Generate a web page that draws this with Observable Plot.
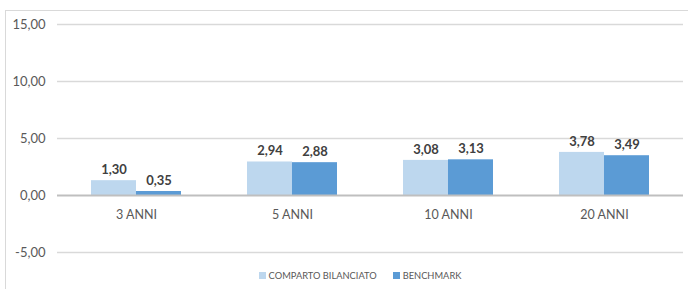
<!DOCTYPE html>
<html><head><meta charset="utf-8">
<script src="https://cdn.jsdelivr.net/npm/d3@7"></script>
<script src="https://cdn.jsdelivr.net/npm/@observablehq/plot@0.6"></script>
<style>
body{margin:0;background:#fff;font-family:Lato,"Open Sans",sans-serif;}
#wrap{position:relative;width:688px;height:289px;overflow:hidden;}
#frame{position:absolute;left:5px;top:10px;width:700px;height:300px;border:1px solid #d9d9d9;box-sizing:border-box;}
#chart{position:absolute;left:0;top:0;}
#legend{position:absolute;left:0;top:270px;width:688px;display:flex;justify-content:center;gap:16px;font-size:9.3px;color:#595959;padding-left:32px;box-sizing:border-box;}
#legend span{display:flex;align-items:center;gap:3px;}
#legend i{display:inline-block;width:7px;height:7px;}
</style></head>
<body>
<div id="wrap"><div id="frame"></div><div id="chart"></div><div id="legend"></div></div>
<script>
const categories = ["3 ANNI", "5 ANNI", "10 ANNI", "20 ANNI"];
const series = ["COMPARTO BILANCIATO", "BENCHMARK"];
const comparto = [1.30, 2.94, 3.08, 3.78];
const benchmark = [0.35, 2.88, 3.13, 3.49];
const yTicks = [-5, 0, 5, 10, 15];
const colors = ["#bdd7ee", "#5b9bd5"];

const data = [];
categories.forEach((c, i) => {
  data.push({cat: c, s: series[0], v: comparto[i]});
  data.push({cat: c, s: series[1], v: benchmark[i]});
});
const fmt = d => d.toFixed(2).replace(".", ",");

const W = 688, ml = 57, mr = 5;
const pin = 0.425, pout = 0.2125;
const step = (W - ml - mr) / (categories.length - pin + 2 * pout);
const bw = step * (1 - pin);
const half = bw / 2;

const s0 = data.filter(d => d.s === series[0]);
const s1 = data.filter(d => d.s === series[1]);

const plot = Plot.plot({
  width: W, height: 289,
  marginLeft: ml, marginRight: mr, marginTop: 24, marginBottom: 37,
  style: {fontFamily: "Lato, 'Open Sans', sans-serif", background: "transparent"},
  x: {domain: categories, paddingInner: pin, paddingOuter: pout, axis: null},
  y: {domain: [-5, 15], axis: null},
  marks: [
    Plot.ruleY(yTicks.filter(t => t !== 0), {stroke: "#d9d9d9", strokeWidth: 1.3}),
    Plot.barY(s0, {x: "cat", y: "v", fill: colors[0], insetRight: half}),
    Plot.barY(s1, {x: "cat", y: "v", fill: colors[1], insetLeft: half}),
    Plot.ruleY([0], {stroke: "#bfbfbf", strokeWidth: 2}),
    Plot.text(yTicks, {y: d => d, text: fmt, frameAnchor: "left", dx: -12, textAnchor: "end", fill: "#595959", fontSize: 13}),
    Plot.text(s0, {x: "cat", y: "v", text: d => fmt(d.v), dx: -half / 2, dy: -11, fontWeight: "bold", fill: "#404040", fontSize: 13}),
    Plot.text(s1, {x: "cat", y: "v", text: d => fmt(d.v), dx: half / 2, dy: -11, fontWeight: "bold", fill: "#404040", fontSize: 13}),
    Plot.text(categories, {x: d => d, y: 0, text: d => d, dy: 19, fill: "#595959", fontSize: 12.5})
  ]
});
document.getElementById("chart").appendChild(plot);

const lg = document.getElementById("legend");
series.forEach((s, i) => {
  const sp = document.createElement("span");
  sp.innerHTML = `<i style="background:${colors[i]}"></i>${s}`;
  lg.appendChild(sp);
});
</script>
</body></html>
